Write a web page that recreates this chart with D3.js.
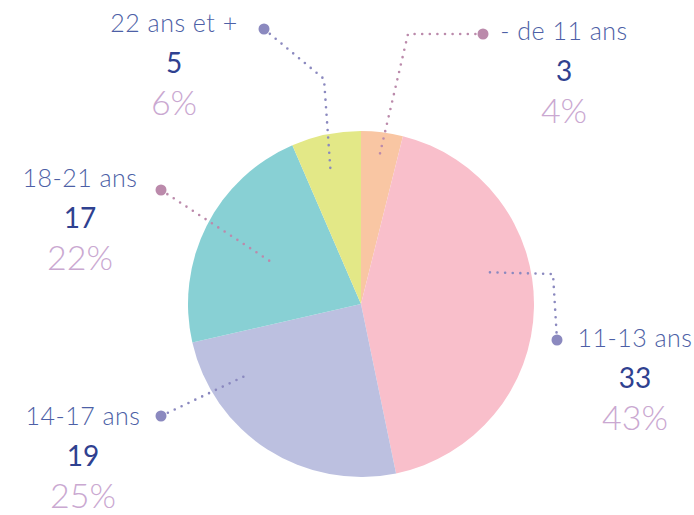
<!DOCTYPE html>
<html>
<head>
<meta charset="utf-8">
<script src="https://cdn.jsdelivr.net/npm/d3@7/dist/d3.min.js"></script>
<style>
  html, body { margin: 0; padding: 0; background: #ffffff; }
  svg { display: block; }
  text { font-family: Lato, "Open Sans", sans-serif; }
</style>
</head>
<body>
<script>
// Répartition par tranche d'âge
const categories = ["- de 11 ans", "11-13 ans", "14-17 ans", "18-21 ans", "22 ans et +"];
const values = [3, 33, 19, 17, 5];
const percents = ["4%", "43%", "25%", "22%", "6%"];
const sliceColors = ["#f9c6a3", "#f9bfcb", "#bcc0e0", "#88d0d4", "#e3e887"];
const markerColors = ["#bb8aab", "#8b89bf", "#8b89bf", "#bb8aab", "#8b89bf"];

const width = 694, height = 515;
const cx = 361, cy = 304, radius = 173;

// Label placement: block centre x, name baseline y, marker dot,
// optional elbow, and the anchor inside the slice (angle in degrees, radius).
const labelLayout = [
  { x: 564, y: 40,  dot: [483, 34],  elbow: [408, 34],  anchor: [7, 147] },
  { x: 635, y: 347, dot: [557, 340], elbow: [553, 274], anchor: [76, 131] },
  { x: 83,  y: 425, dot: [161, 416], elbow: null,       anchor: [238, 133] },
  { x: 80,  y: 187, dot: [161, 190], elbow: null,       anchor: [295, 98] },
  { x: 174, y: 32,  dot: [264, 29],  elbow: [324, 79],  anchor: [347, 135] }
];

const svg = d3.select("body").append("svg")
  .attr("width", width)
  .attr("height", height);

const pie = d3.pie().sort(null).value(d => d);
const arc = d3.arc().innerRadius(0).outerRadius(radius);
const arcs = pie(values);

const g = svg.append("g").attr("transform", `translate(${cx},${cy})`);

g.selectAll("path.slice")
  .data(arcs)
  .join("path")
  .attr("class", "slice")
  .attr("d", arc)
  .attr("fill", (d, i) => sliceColors[i]);

function polar(angleDeg, r) {
  const a = angleDeg * Math.PI / 180;
  return [cx + r * Math.sin(a), cy - r * Math.cos(a)];
}

// Dotted leader lines
const lines = svg.append("g");
labelLayout.forEach((L, i) => {
  const pts = [L.dot];
  if (L.elbow) pts.push(L.elbow);
  pts.push(polar(L.anchor[0], L.anchor[1]));
  lines.append("path")
    .attr("d", d3.line()(pts))
    .attr("fill", "none")
    .attr("stroke", markerColors[i])
    .attr("stroke-width", 2.6)
    .attr("stroke-linecap", "round")
    .attr("stroke-dasharray", "0 7.6");
  lines.append("circle")
    .attr("cx", L.dot[0])
    .attr("cy", L.dot[1])
    .attr("r", 5.5)
    .attr("fill", markerColors[i]);
});

// Labels: name, count, percentage
const labels = svg.append("g");
labelLayout.forEach((L, i) => {
  const grp = labels.append("g").attr("text-anchor", "middle");
  grp.append("text")
    .attr("x", L.x).attr("y", L.y)
    .attr("font-size", 25)
    .attr("font-weight", 300)
    .attr("letter-spacing", 0.5)
    .attr("fill", "#4d5fa6")
    .text(categories[i]);
  grp.append("text")
    .attr("x", L.x).attr("y", L.y + 41)
    .attr("font-size", 28)
    .attr("font-weight", 400)
    .attr("fill", "#2f4190")
    .text(values[i]);
  grp.append("text")
    .attr("x", L.x).attr("y", L.y + 83)
    .attr("font-size", 34)
    .attr("font-weight", 300)
    .attr("fill", "#caa8d1")
    .text(percents[i]);
});
</script>
</body>
</html>
